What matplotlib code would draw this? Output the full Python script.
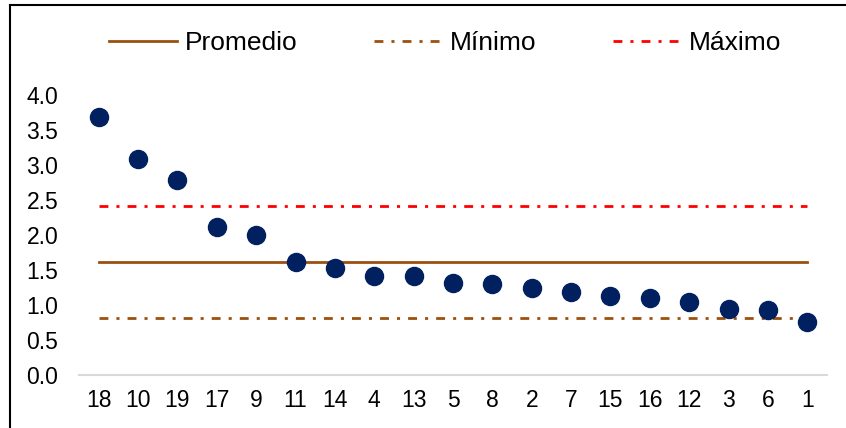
import numpy as np
import matplotlib
matplotlib.use("Agg")
import matplotlib.pyplot as plt
from matplotlib.lines import Line2D

plt.rcParams['font.family'] = ['Liberation Sans', 'DejaVu Sans']

categorias = ["18", "10", "19", "17", "9", "11", "14", "4", "13", "5",
              "8", "2", "7", "15", "16", "12", "3", "6", "1"]
valores = [3.69, 3.09, 2.79, 2.11, 2.0, 1.62, 1.53, 1.42, 1.41, 1.32,
           1.30, 1.25, 1.19, 1.13, 1.10, 1.05, 0.94, 0.93, 0.76]
promedio = 1.61
minimo = 0.81
maximo = 2.41

marron = '#9C5010'
rayapunto = (0, (3.2, 2.9, 1.1, 2.9))
grosor = 2

fig = plt.figure(figsize=(8.46, 4.28), dpi=100)
ax = fig.add_axes([79/846, 1-375/428, 748/846, 280/428])

x = np.arange(len(categorias))
ax.plot(x, [promedio]*len(x), color=marron, lw=grosor, label='Promedio')
ax.plot(x, [minimo]*len(x), color=marron, lw=grosor, ls=rayapunto, label='Mínimo')
ax.plot(x, [maximo]*len(x), color='#FF0000', lw=grosor, ls=rayapunto, label='Máximo')
ax.plot(x, valores, 'o', ms=13, color='#002060', zorder=5)

ax.set_xlim(-0.5, len(x)-0.5)
ax.set_ylim(0, 4)
ticks_y = np.arange(0, 4.01, 0.5)
ax.set_yticks(ticks_y)
ax.set_yticklabels([f"{v:.1f}" for v in ticks_y])
ax.set_xticks(x)
ax.set_xticklabels(categorias)
ax.tick_params(length=0, labelsize=16.5, colors='#000000')
ax.tick_params(axis='x', pad=10)
ax.tick_params(axis='y', pad=15)
for s in ['top', 'right', 'left']:
    ax.spines[s].set_visible(False)
ax.spines['bottom'].set_color('#D9D9D9')
ax.spines['bottom'].set_linewidth(1.5)

leg = fig.legend(handles=[
    Line2D([], [], color=marron, lw=grosor),
    Line2D([], [], color=marron, lw=grosor, ls=rayapunto),
    Line2D([], [], color='#FF0000', lw=grosor, ls=rayapunto)],
    labels=['Promedio', 'Mínimo', 'Máximo'],
    loc='center', bbox_to_anchor=(445/846, 1-43/428), ncol=3, frameon=False,
    fontsize=19, handlelength=2.58, handletextpad=0.3, columnspacing=2.9)

# marco exterior
fig.add_artist(Line2D([10/846, 10/846], [0, 1-5/428], color='black', lw=1.5, transform=fig.transFigure))
fig.add_artist(Line2D([10/846, 1], [1-5/428, 1-5/428], color='black', lw=1.5, transform=fig.transFigure))

fig.savefig("out.png", dpi=100)
